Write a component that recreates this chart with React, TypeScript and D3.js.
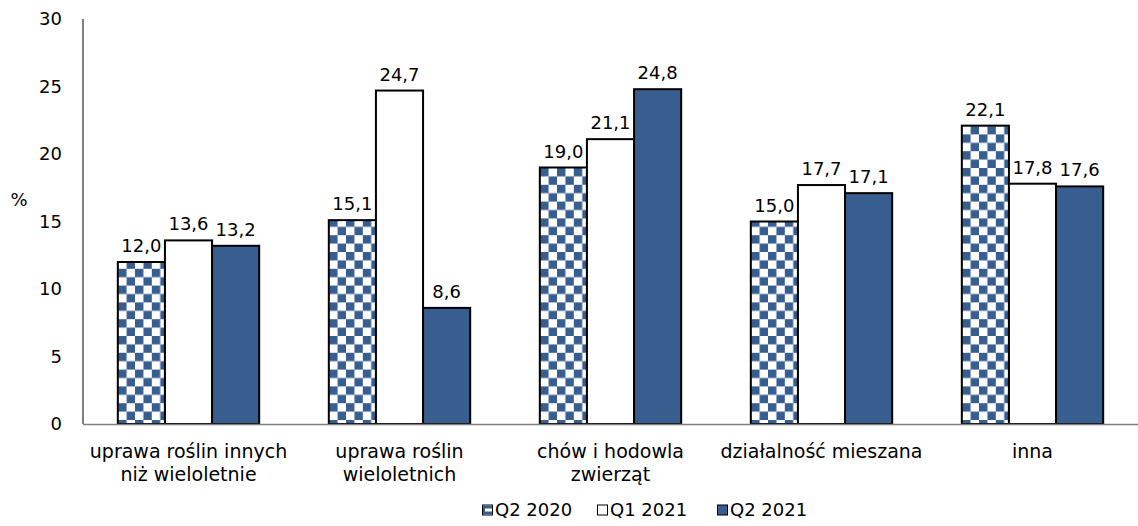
import React from "react";
import * as d3 from "d3";

const categories: string[][] = [
  ["uprawa roślin innych", "niż wieloletnie"],
  ["uprawa roślin", "wieloletnich"],
  ["chów i hodowla", "zwierząt"],
  ["działalność mieszana"],
  ["inna"],
];
const seriesNames = ["Q2 2020", "Q1 2021", "Q2 2021"];
const q2_2020 = [12.0, 15.1, 19.0, 15.0, 22.1];
const q1_2021 = [13.6, 24.7, 21.1, 17.7, 17.8];
const q2_2021 = [13.2, 8.6, 24.8, 17.1, 17.6];
const yTicks = [0, 5, 10, 15, 20, 25, 30];

const W = 1138;
const H = 526;
const BLUE = "#375E8F";
const FONT = "Tahoma, 'DejaVu Sans', Verdana, sans-serif";
const FS = 18;

export default function App() {
  const series = [q2_2020, q1_2021, q2_2021];
  const fills = ["url(#checker)", "#FFFFFF", BLUE];
  const left = 83;
  const right = 1138;
  const top = 19;
  const bottom = 424;
  const x = d3
    .scaleBand<number>()
    .domain(categories.map((_, i) => i))
    .range([left, right])
    .paddingInner(0.33)
    .paddingOuter(0.165);
  const xs = d3
    .scaleBand<number>()
    .domain(seriesNames.map((_, i) => i))
    .range([0, x.bandwidth()]);
  const y = d3.scaleLinear().domain([0, 30]).range([bottom, top]);
  const fmt = (v: number) => v.toFixed(1).replace(".", ",");

  const legendX = [482, 597, 717];

  return (
    <svg
      width={W}
      height={H}
      style={{ position: "absolute", left: 0, top: 0, background: "#fff" }}
      fontFamily={FONT}
    >
      <defs>
        <pattern id="checker" patternUnits="userSpaceOnUse" width={16.8} height={16.8} x={118} y={0}>
          <rect width={16.8} height={16.8} fill="#fff" />
          <rect width={8.4} height={8.4} fill={BLUE} />
          <rect x={8.4} y={8.4} width={8.4} height={8.4} fill={BLUE} />
        </pattern>
      </defs>
      {/* y axis */}
      <line x1={left} x2={left} y1={top} y2={bottom} stroke="#000" strokeWidth={1} />
      {yTicks.map((t) => (
        <text key={t} x={62} y={y(t)} dy="0.35em" textAnchor="end" fontSize={FS} fill="#000">
          {t}
        </text>
      ))}
      <text x={19} y={y(16.6)} dy="0.35em" textAnchor="middle" fontSize={FS}>
        %
      </text>
      {/* bars */}
      {categories.map((_, ci) => (
        <g key={ci} transform={`translate(${x(ci)},0)`}>
          {series.map((s, si) => (
            <g key={si}>
              <rect
                x={xs(si)}
                y={y(s[ci])}
                width={xs.bandwidth()}
                height={bottom - y(s[ci])}
                fill={fills[si]}
                stroke="#000"
                strokeWidth={2}
              />
              <text
                x={(xs(si) as number) + xs.bandwidth() / 2}
                y={y(s[ci]) - 10}
                textAnchor="middle"
                fontSize={FS}
              >
                {fmt(s[ci])}
              </text>
            </g>
          ))}
        </g>
      ))}
      {/* x axis */}
      <line x1={left} x2={right} y1={bottom + 0.5} y2={bottom + 0.5} stroke="#808080" strokeWidth={1.5} />
      {categories.map((lines, ci) => (
        <text
          key={ci}
          x={(x(ci) as number) + x.bandwidth() / 2}
          y={458}
          textAnchor="middle"
          fontSize={19}
        >
          {lines.map((l, li) => (
            <tspan key={li} x={(x(ci) as number) + x.bandwidth() / 2} dy={li === 0 ? 0 : 23}>
              {l}
            </tspan>
          ))}
        </text>
      ))}
      {/* legend */}
      {seriesNames.map((n, i) => (
        <g key={n} transform={`translate(${legendX[i]},510)`}>
          <rect
            x={0.5}
            y={-5}
            width={10}
            height={10}
            fill={i === 2 ? BLUE : "#fff"}
            stroke="#000"
            strokeWidth={1}
          />
          {i === 0 && (
            <>
              <rect x={1} y={-4.5} width={9} height={3} fill={BLUE} />
              <rect x={1} y={1.5} width={9} height={3} fill={BLUE} />
              <rect x={1} y={-4.5} width={2} height={9} fill={BLUE} />
            </>
          )}
          <text x={13} y={0} dy="0.35em" fontSize={FS}>
            {n}
          </text>
        </g>
      ))}
    </svg>
  );
}
